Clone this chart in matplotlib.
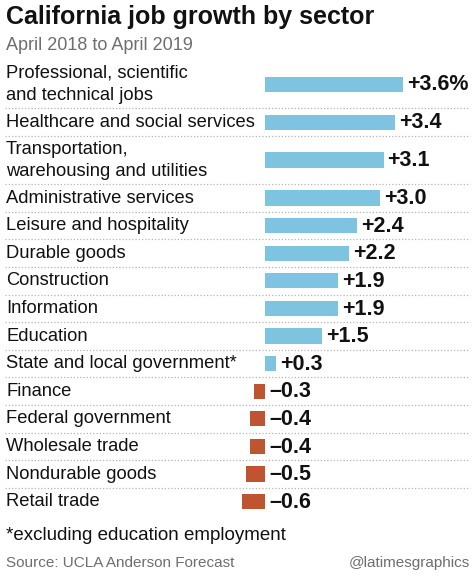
import matplotlib.pyplot as plt
import matplotlib.transforms as mtransforms

# data, top to bottom
sectors = [
    "Professional, scientific\nand technical jobs",
    "Healthcare and social services",
    "Transportation,\nwarehousing and utilities",
    "Administrative services",
    "Leisure and hospitality",
    "Durable goods",
    "Construction",
    "Information",
    "Education",
    "State and local government*",
    "Finance",
    "Federal government",
    "Wholesale trade",
    "Nondurable goods",
    "Retail trade",
]
growth = [3.6, 3.4, 3.1, 3.0, 2.4, 2.2, 1.9, 1.9, 1.5, 0.3,
          -0.3, -0.4, -0.4, -0.5, -0.6]
value_labels = ["+3.6%", "+3.4", "+3.1", "+3.0", "+2.4", "+2.2", "+1.9", "+1.9",
                "+1.5", "+0.3", "\u20130.3", "\u20130.4", "\u20130.4", "\u20130.5", "\u20130.6"]

BLUE = "#7ec4e0"
RUST = "#bf5530"
FONT = ["Liberation Sans", "DejaVu Sans"]

W, H = 474, 576
plt.rcParams["font.family"] = FONT

fig = plt.figure(figsize=(W / 100, H / 100), dpi=100)

# row layout (single-line row = 1 unit, two-line row = 1.75)
heights = [1.75 if "\n" in s else 1.0 for s in sectors]
tops = []
acc = 0.0
for h in heights:
    tops.append(acc)
    acc += h
total = acc
centers = [t + h / 2 for t, h in zip(tops, heights)]

px_top, px_bottom = 60, 515.5
ax = fig.add_axes([0, (H - px_bottom) / H, 1, (px_bottom - px_top) / H])
zero_px, px_per_unit = 265, 38.25
ax.set_xlim(-zero_px / px_per_unit, (W - zero_px) / px_per_unit)
ax.set_ylim(total, 0)
ax.axis("off")

bar_h = 0.55
colors = [BLUE if v >= 0 else RUST for v in growth]
ax.barh(centers, growth, height=bar_h, color=colors, linewidth=0)

lab_tr = mtransforms.blended_transform_factory(ax.transAxes, ax.transData)
pad = 4 / px_per_unit
for c, name, v, vl in zip(centers, sectors, growth, value_labels):
    ax.text(6 / W, c, name, transform=lab_tr, ha="left", va="center",
            fontsize=13.2, color="#111111", linespacing=1.38)
    x = (v if v > 0 else 0) + pad
    ax.text(x, c + 0.02, vl, ha="left", va="center", fontsize=15.5,
            fontweight="bold", color="#111111")

# dotted separators between rows
for t in tops[1:]:
    ax.axhline(t, xmin=5 / W, xmax=470 / W, color="#b5b5b5",
               linewidth=0.9, linestyle=(0, (1, 1.6)))

fig.text(6 / W, 1 - 17 / H, "California job growth by sector", ha="left",
         va="center", fontsize=18, fontweight="bold", color="#111111")
fig.text(6 / W, 1 - 45 / H, "April 2018 to April 2019", ha="left",
         va="center", fontsize=13, color="#6e6e6e")
fig.text(6 / W, 1 - 536 / H, "*excluding education employment", ha="left",
         va="center", fontsize=13.5, color="#111111")
fig.text(6 / W, 1 - 563 / H, "Source: UCLA Anderson Forecast", ha="left",
         va="center", fontsize=11, color="#6e6e6e")
fig.text(470 / W, 1 - 563 / H, "@latimesgraphics", ha="right",
         va="center", fontsize=11, color="#6e6e6e")

fig.savefig("out.png", dpi=100, facecolor="white")
